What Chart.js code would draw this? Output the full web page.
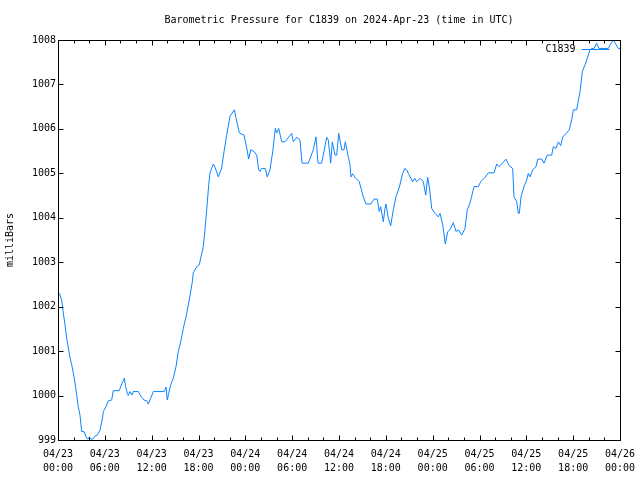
<!DOCTYPE html>
<html>
<head>
<meta charset="utf-8">
<script src="https://cdn.jsdelivr.net/npm/chart.js@4/dist/chart.umd.min.js"></script>
<style>
  html, body { margin: 0; padding: 0; background: #ffffff; }
  #wrap { width: 640px; height: 480px; }
</style>
</head>
<body>
<div id="wrap"><canvas id="c" width="640" height="480"></canvas></div>
<script>
// ---- Data (time in hours since 2024-04-23 00:00 UTC, pressure in milliBars) ----
const seriesLabel = "C1839";
const hours = [
  0.17, 0.47, 0.68, 0.90, 1.11, 1.32, 1.54, 1.76, 1.96, 2.18,
  2.40, 2.60, 2.82, 3.04, 3.33, 3.59, 3.80, 4.01, 4.23, 4.45,
  4.74, 5.03, 5.38, 5.73, 5.80, 6.15, 6.44, 6.88, 7.08, 7.85,
  8.03, 8.20, 8.37, 8.49, 8.67, 8.88, 9.01, 9.22, 9.48, 9.65,
  10.29, 10.59, 11.02, 11.36, 11.57, 11.88, 12.21, 13.62, 13.84, 14.00,
  14.18, 14.44, 14.77, 15.12, 15.41, 15.72, 16.05, 16.40, 16.74, 17.00,
  17.21, 17.33, 17.77, 18.10, 18.61, 18.83, 19.05, 19.31, 19.47, 19.90,
  20.11, 20.54, 20.97, 21.27, 21.61, 22.04, 22.25, 22.59, 22.80, 23.23,
  23.83, 24.18, 24.43, 24.69, 25.11, 25.46, 25.71, 25.88, 26.10, 26.56,
  26.81, 27.16, 27.51, 27.84, 28.02, 28.28, 28.66, 29.08, 29.94, 30.15,
  30.58, 31.00, 31.26, 32.07, 32.71, 33.05, 33.31, 33.78, 34.12, 34.42,
  34.63, 34.94, 35.14, 35.49, 35.71, 35.96, 36.35, 36.64, 36.81, 37.19,
  37.41, 37.54, 37.75, 38.05, 38.60, 39.11, 39.46, 40.06, 40.48, 40.91,
  41.16, 41.34, 41.68, 41.89, 42.02, 42.32, 42.62, 42.96, 43.30, 43.73,
  44.16, 44.42, 44.67, 44.88, 45.44, 45.70, 45.95, 46.38, 46.80, 47.11,
  47.36, 47.57, 47.88, 48.30, 48.72, 48.94, 49.29, 49.62, 49.93, 50.22,
  50.64, 50.99, 51.28, 51.72, 52.14, 52.44, 52.78, 53.30, 53.85, 54.15,
  54.70, 55.13, 55.86, 56.20, 56.50, 56.84, 57.39, 57.82, 58.25, 58.42,
  58.77, 58.97, 59.10, 59.32, 59.70, 60.05, 60.25, 60.47, 60.82, 61.24,
  61.46, 61.97, 62.26, 62.69, 63.25, 63.46, 63.80, 64.10, 64.40, 64.66,
  65.08, 65.50, 65.81, 66.02, 66.45, 66.88, 67.17, 67.52, 67.81, 68.16,
  68.41, 68.67, 69.01, 69.31, 70.50, 70.85, 71.15, 71.37, 71.78, 72.00
];
const pressure = [
  1002.30, 1002.15, 1001.86, 1001.59, 1001.30, 1001.07, 1000.85, 1000.69, 1000.51, 1000.28,
  1000.01, 999.74, 999.56, 999.19, 999.19, 999.07, 999.02, 999.07, 999.02, 999.02,
  999.09, 999.11, 999.22, 999.52, 999.64, 999.75, 999.88, 999.90, 1000.11, 1000.11,
  1000.20, 1000.28, 1000.33, 1000.39, 1000.20, 1000.05, 1000.00, 1000.09, 1000.01, 1000.09,
  1000.09, 999.99, 999.90, 999.88, 999.81, 999.94, 1000.09, 1000.09, 1000.19, 999.90,
  1000.05, 1000.24, 1000.39, 1000.65, 1000.99, 1001.21, 1001.51, 1001.77, 1002.08, 1002.34,
  1002.56, 1002.76, 1002.90, 1002.94, 1003.35, 1003.73, 1004.18, 1004.74, 1005.01, 1005.21,
  1005.14, 1004.92, 1005.12, 1005.49, 1005.86, 1006.29, 1006.34, 1006.43, 1006.25, 1005.91,
  1005.86, 1005.57, 1005.32, 1005.53, 1005.49, 1005.41, 1005.08, 1005.04, 1005.11, 1005.11,
  1004.92, 1005.08, 1005.49, 1006.01, 1005.91, 1006.01, 1005.71, 1005.71, 1005.90, 1005.71,
  1005.81, 1005.75, 1005.23, 1005.23, 1005.53, 1005.82, 1005.23, 1005.23, 1005.53, 1005.81,
  1005.75, 1005.23, 1005.71, 1005.41, 1005.41, 1005.90, 1005.53, 1005.53, 1005.71, 1005.37,
  1005.19, 1004.92, 1004.99, 1004.91, 1004.81, 1004.47, 1004.31, 1004.31, 1004.42, 1004.42,
  1004.14, 1004.25, 1003.91, 1004.21, 1004.31, 1003.99, 1003.82, 1004.18, 1004.47, 1004.69,
  1005.00, 1005.11, 1005.08, 1005.00, 1004.81, 1004.89, 1004.81, 1004.89, 1004.81, 1004.51,
  1004.91, 1004.70, 1004.21, 1004.10, 1004.02, 1004.10, 1003.84, 1003.41, 1003.69, 1003.73,
  1003.89, 1003.69, 1003.73, 1003.61, 1003.76, 1004.18, 1004.33, 1004.70, 1004.70, 1004.81,
  1004.91, 1005.01, 1005.01, 1005.21, 1005.15, 1005.21, 1005.32, 1005.17, 1005.11, 1004.47,
  1004.36, 1004.10, 1004.10, 1004.47, 1004.70, 1004.85, 1005.00, 1004.92, 1005.08, 1005.15,
  1005.32, 1005.32, 1005.23, 1005.41, 1005.41, 1005.60, 1005.56, 1005.71, 1005.62, 1005.82,
  1005.89, 1005.98, 1006.20, 1006.43, 1006.43, 1006.84, 1007.29, 1007.44, 1007.59, 1007.78,
  1007.81, 1007.81, 1007.93, 1007.81, 1007.81, 1007.93, 1008.00, 1007.93, 1007.81, 1007.81
];
// Tick labels
const xTickHours = [0, 6, 12, 18, 24, 30, 36, 42, 48, 54, 60, 66, 72];
const xTickLabels = [
  ["04/23", "00:00"], ["04/23", "06:00"], ["04/23", "12:00"], ["04/23", "18:00"],
  ["04/24", "00:00"], ["04/24", "06:00"], ["04/24", "12:00"], ["04/24", "18:00"],
  ["04/25", "00:00"], ["04/25", "06:00"], ["04/25", "12:00"], ["04/25", "18:00"],
  ["04/26", "00:00"]
];
const yTickLabels = ["999", "1000", "1001", "1002", "1003", "1004", "1005", "1006", "1007", "1008"];
const titleText = "Barometric Pressure for C1839 on 2024-Apr-23 (time in UTC)";
const yAxisTitle = "milliBars";

const lineColor = "#0a84ff";
const FONT = "'DejaVu Sans Mono', 'Liberation Mono', monospace";

// Frame, inward ticks and gnuplot-style legend
const gnuplotFrame = {
  id: "gnuplotFrame",
  afterDatasetsDraw(chart) {
    const ctx = chart.ctx;
    const a = chart.chartArea;
    const xs = chart.scales.x, ys = chart.scales.y;
    const L = Math.round(a.left) + 0.5, R = Math.round(a.right) + 0.5;
    const T = Math.round(a.top) + 0.5, B = Math.round(a.bottom) + 0.5;
    ctx.save();
    ctx.strokeStyle = "#000";
    ctx.lineWidth = 1;
    ctx.beginPath();
    // x ticks: minor every 2 h, major every 6 h
    for (let h = xs.min; h <= xs.max + 1e-9; h += 2) {
      const px = Math.round(xs.getPixelForValue(h)) + 0.5;
      const len = (h % 6 === 0) ? 5 : 3;
      ctx.moveTo(px, B); ctx.lineTo(px, B - len);
      ctx.moveTo(px, T); ctx.lineTo(px, T + len);
    }
    // y ticks
    for (let v = ys.min; v <= ys.max + 1e-9; v += 1) {
      const py = Math.round(ys.getPixelForValue(v)) + 0.5;
      ctx.moveTo(L, py); ctx.lineTo(L + 5, py);
      ctx.moveTo(R, py); ctx.lineTo(R - 5, py);
    }
    ctx.stroke();
    ctx.strokeRect(L, T, R - L, B - T);
    // legend
    const ds = chart.data.datasets[0];
    const ly = T + 9;
    ctx.fillStyle = "#000";
    ctx.font = "10px " + FONT;
    ctx.textAlign = "right";
    ctx.textBaseline = "middle";
    ctx.fillText(ds.label, R - 45, ly);
    ctx.strokeStyle = ds.borderColor;
    ctx.beginPath();
    ctx.moveTo(R - 39, ly); ctx.lineTo(R - 11, ly);
    ctx.stroke();
    ctx.restore();
  }
};

new Chart(document.getElementById("c"), {
  type: "line",
  data: {
    datasets: [{
      label: seriesLabel,
      data: hours.map((h, i) => ({ x: h, y: pressure[i] })),
      borderColor: lineColor,
      backgroundColor: lineColor,
      borderWidth: 1,
      pointRadius: 0,
      tension: 0,
      fill: false
    }]
  },
  options: {
    responsive: false,
    animation: false,
    devicePixelRatio: 1,
    layout: { padding: { left: 0, right: 20, top: 0, bottom: 0 } },
    plugins: {
      legend: { display: false },
      tooltip: { enabled: false },
      title: {
        display: true,
        fullSize: false,
        text: titleText,
        color: "#000",
        font: { family: FONT, size: 10, weight: "normal", lineHeight: 1.2 },
        padding: { top: 14, bottom: 14 }
      }
    },
    scales: {
      x: {
        type: "linear",
        min: 0,
        max: 72,
        afterFit: (s) => { s.height = 40; s.paddingLeft = 0; s.paddingRight = 0; },
        afterBuildTicks: (s) => { s.ticks = xTickHours.map(v => ({ value: v })); },
        ticks: {
          autoSkip: false,
          maxRotation: 0,
          color: "#000",
          padding: 7,
          font: { family: FONT, size: 10, lineHeight: 1.4 },
          callback: (v) => xTickLabels[xTickHours.indexOf(v)]
        },
        grid: { display: false, drawTicks: false },
        border: { display: false }
      },
      y: {
        min: 999,
        max: 1008,
        afterFit: (s) => { s.width = 58; },
        ticks: {
          stepSize: 1,
          color: "#000",
          padding: 2,
          font: { family: FONT, size: 10 },
          callback: (v) => yTickLabels[Math.round(v - 999)]
        },
        grid: { display: false, drawTicks: false },
        border: { display: false },
        title: {
          display: true,
          text: yAxisTitle,
          color: "#000",
          font: { family: FONT, size: 10, lineHeight: 1.2 },
          padding: { top: 4, bottom: 0 }
        }
      }
    }
  },
  plugins: [gnuplotFrame]
});
</script>
</body>
</html>
